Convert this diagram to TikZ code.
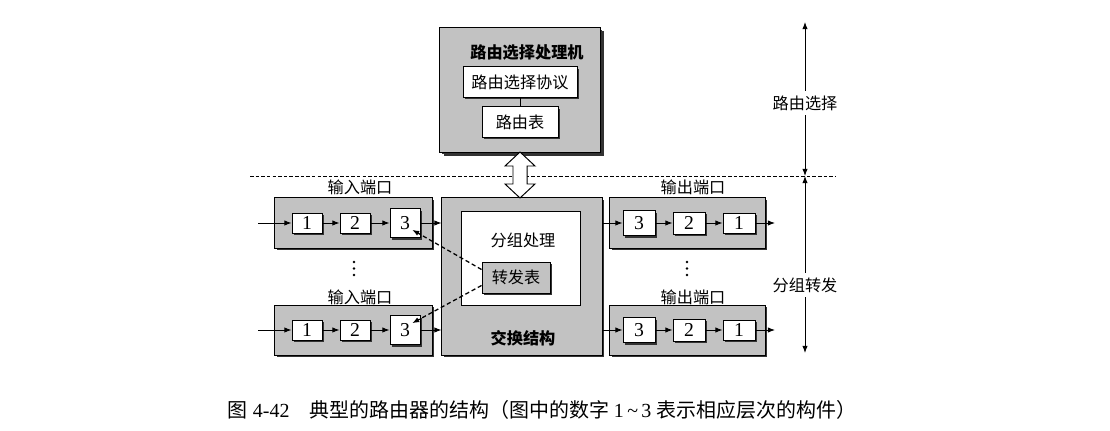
\documentclass[tikz,border=0pt]{standalone}
\usepackage{fontspec}
\setmainfont{Liberation Serif}
\newfontfamily\cjk{Noto Sans CJK SC}
\usetikzlibrary{shadows,arrows.meta}

\begin{document}
\begin{tikzpicture}[x=0.025cm,y=-0.025cm,line width=0.7pt,>={Latex[length=5pt,width=3.8pt]},
  boxshadow/.style={drop shadow={opacity=1,fill=black!80,shadow xshift=1.5pt,shadow yshift=-1.5pt}},
  graybox/.style={draw,fill=black!24,boxshadow,inner sep=0pt},
  whitebox/.style={draw,fill=white,boxshadow,inner sep=0pt},
  numbox/.style={whitebox,minimum width=0.75cm,minimum height=0.5cm,font=\fontsize{14}{14}\selectfont},
  cn/.style={font=\fontsize{11.5}{13}\selectfont\cjk},
  cnb/.style={font=\fontsize{11.5}{13}\selectfont\cjk\bfseries}]
\useasboundingbox (0,0) rectangle (1110,431);

% divider
\draw[line width=0.6pt,dash pattern=on 2.5pt off 1.5pt] (250,176) -- (835,176);

% routing processor
\node[graybox,minimum width=4cm,minimum height=3.1cm,
  drop shadow={opacity=1,fill=black!80,shadow xshift=2.5pt,shadow yshift=-2.5pt}] (rp) at (520,90) {};
\node[cnb] (rptitle) at (527,52) {路由选择处理机};
\node[whitebox,cn,minimum width=2.85cm,minimum height=0.75cm] (proto) at (520,82) {路由选择协议};
\node[whitebox,cn,minimum width=1.9cm,minimum height=0.75cm] (rtab) at (520,122) {路由表};
\draw (proto) -- (rtab);

% switch fabric
\node[graybox,minimum width=4cm,minimum height=3.925cm] (sw) at (522,276.5) {};
\node[draw,fill=white,minimum width=2.95cm,minimum height=2.325cm] (pp) at (521,258.5) {};
\node[cn] (pptitle) at (523,240) {分组处理};
\node[graybox,cn,minimum width=1.7cm,minimum height=0.775cm] (fwd) at (516,277.5) {转发表};
\node[cnb] (swtitle) at (523,338) {交换结构};

% hollow double arrow
\draw[fill=white] (520,152) -- (535,166) -- (527,166) -- (527,184) -- (535,184)
  -- (520,198) -- (505,184) -- (513,184) -- (513,166) -- (505,166) -- cycle;

% input ports
\node[cn] (inlbl1) at (360,187) {输入端口};
\node[graybox,minimum width=3.925cm,minimum height=1.25cm] (in1) at (353.5,223) {};
\node[numbox] (in1a) at (307,223) {1};
\node[numbox] (in1b) at (355,223) {2};
\node[numbox,minimum height=0.725cm] (in1c) at (405,223) {3};
\coordinate (in1src) at (258,223);
\draw[->] (in1src) -- (in1a);
\draw[->] (in1a) -- (in1b);
\draw[->] (in1b) -- (in1c);
\draw[->] (in1c) -- (in1c -| sw.west);

\fill (354,262) circle (1.3) (354,268.5) circle (1.3) (354,275) circle (1.3);

\node[cn] (inlbl2) at (360,297) {输入端口};
\node[graybox,minimum width=3.925cm,minimum height=1.25cm] (in2) at (353.5,330) {};
\node[numbox] (in2a) at (307,330) {1};
\node[numbox] (in2b) at (355,330) {2};
\node[numbox,minimum height=0.725cm] (in2c) at (405,330) {3};
\coordinate (in2src) at (258,330);
\draw[->] (in2src) -- (in2a);
\draw[->] (in2a) -- (in2b);
\draw[->] (in2b) -- (in2c);
\draw[->] (in2c) -- (in2c -| sw.west);

% output ports
\node[cn] (outlbl1) at (693,187) {输出端口};
\node[graybox,minimum width=3.875cm,minimum height=1.25cm] (out1) at (687.5,223) {};
\node[numbox,minimum width=0.8cm,minimum height=0.625cm] (out1c) at (639,223) {3};
\node[numbox,minimum width=0.8cm,minimum height=0.55cm] (out1b) at (689,223) {2};
\node[numbox,minimum width=0.8cm,minimum height=0.5cm] (out1a) at (739,223) {1};
\coordinate (out1dst) at (775,223);
\draw[->] (out1c -| sw.east) -- (out1c);
\draw[->] (out1c) -- (out1b);
\draw[->] (out1b) -- (out1a);
\draw[->] (out1a) -- (out1dst);

\fill (687,262) circle (1.3) (687,268.5) circle (1.3) (687,275) circle (1.3);

\node[cn] (outlbl2) at (693,297) {输出端口};
\node[graybox,minimum width=3.875cm,minimum height=1.25cm] (out2) at (687.5,330) {};
\node[numbox,minimum width=0.8cm,minimum height=0.625cm] (out2c) at (639,330) {3};
\node[numbox,minimum width=0.8cm,minimum height=0.55cm] (out2b) at (689,330) {2};
\node[numbox,minimum width=0.8cm,minimum height=0.5cm] (out2a) at (739,330) {1};
\coordinate (out2dst) at (775,330);
\draw[->] (out2c -| sw.east) -- (out2c);
\draw[->] (out2c) -- (out2b);
\draw[->] (out2b) -- (out2a);
\draw[->] (out2a) -- (out2dst);

% lookups
\draw[line width=0.9pt,dash pattern=on 3pt off 2pt,->] ([yshift=0.2cm]fwd.west) -- ([shift={(0.18cm,-0.17cm)}]in1c.center);
\draw[line width=0.9pt,dash pattern=on 3pt off 2pt,->] ([yshift=-0.2cm]fwd.west) -- ([shift={(0.18cm,0.17cm)}]in2c.center);

% side axis
\coordinate (axtop) at (805,22);
\coordinate (axmid) at (805,176);
\coordinate (axbot) at (805,353);
\draw[<->] (axmid) -- (axtop);
\draw[<->] (axmid) -- (axbot);
\node[cn,fill=white] (rsel) at (805,103) {路由选择};
\node[cn,fill=white] (pfwd) at (805,285) {分组转发};

% caption
\node[font=\fontsize{14.2}{16}\selectfont] (cap) at (542,410)
  {{\cjk 图} 4-42\quad{\cjk 典型的路由器的结构（图中的数字} 1\,\textasciitilde\,3 {\cjk 表示相应层次的构件）}};
\end{tikzpicture}
\end{document}
